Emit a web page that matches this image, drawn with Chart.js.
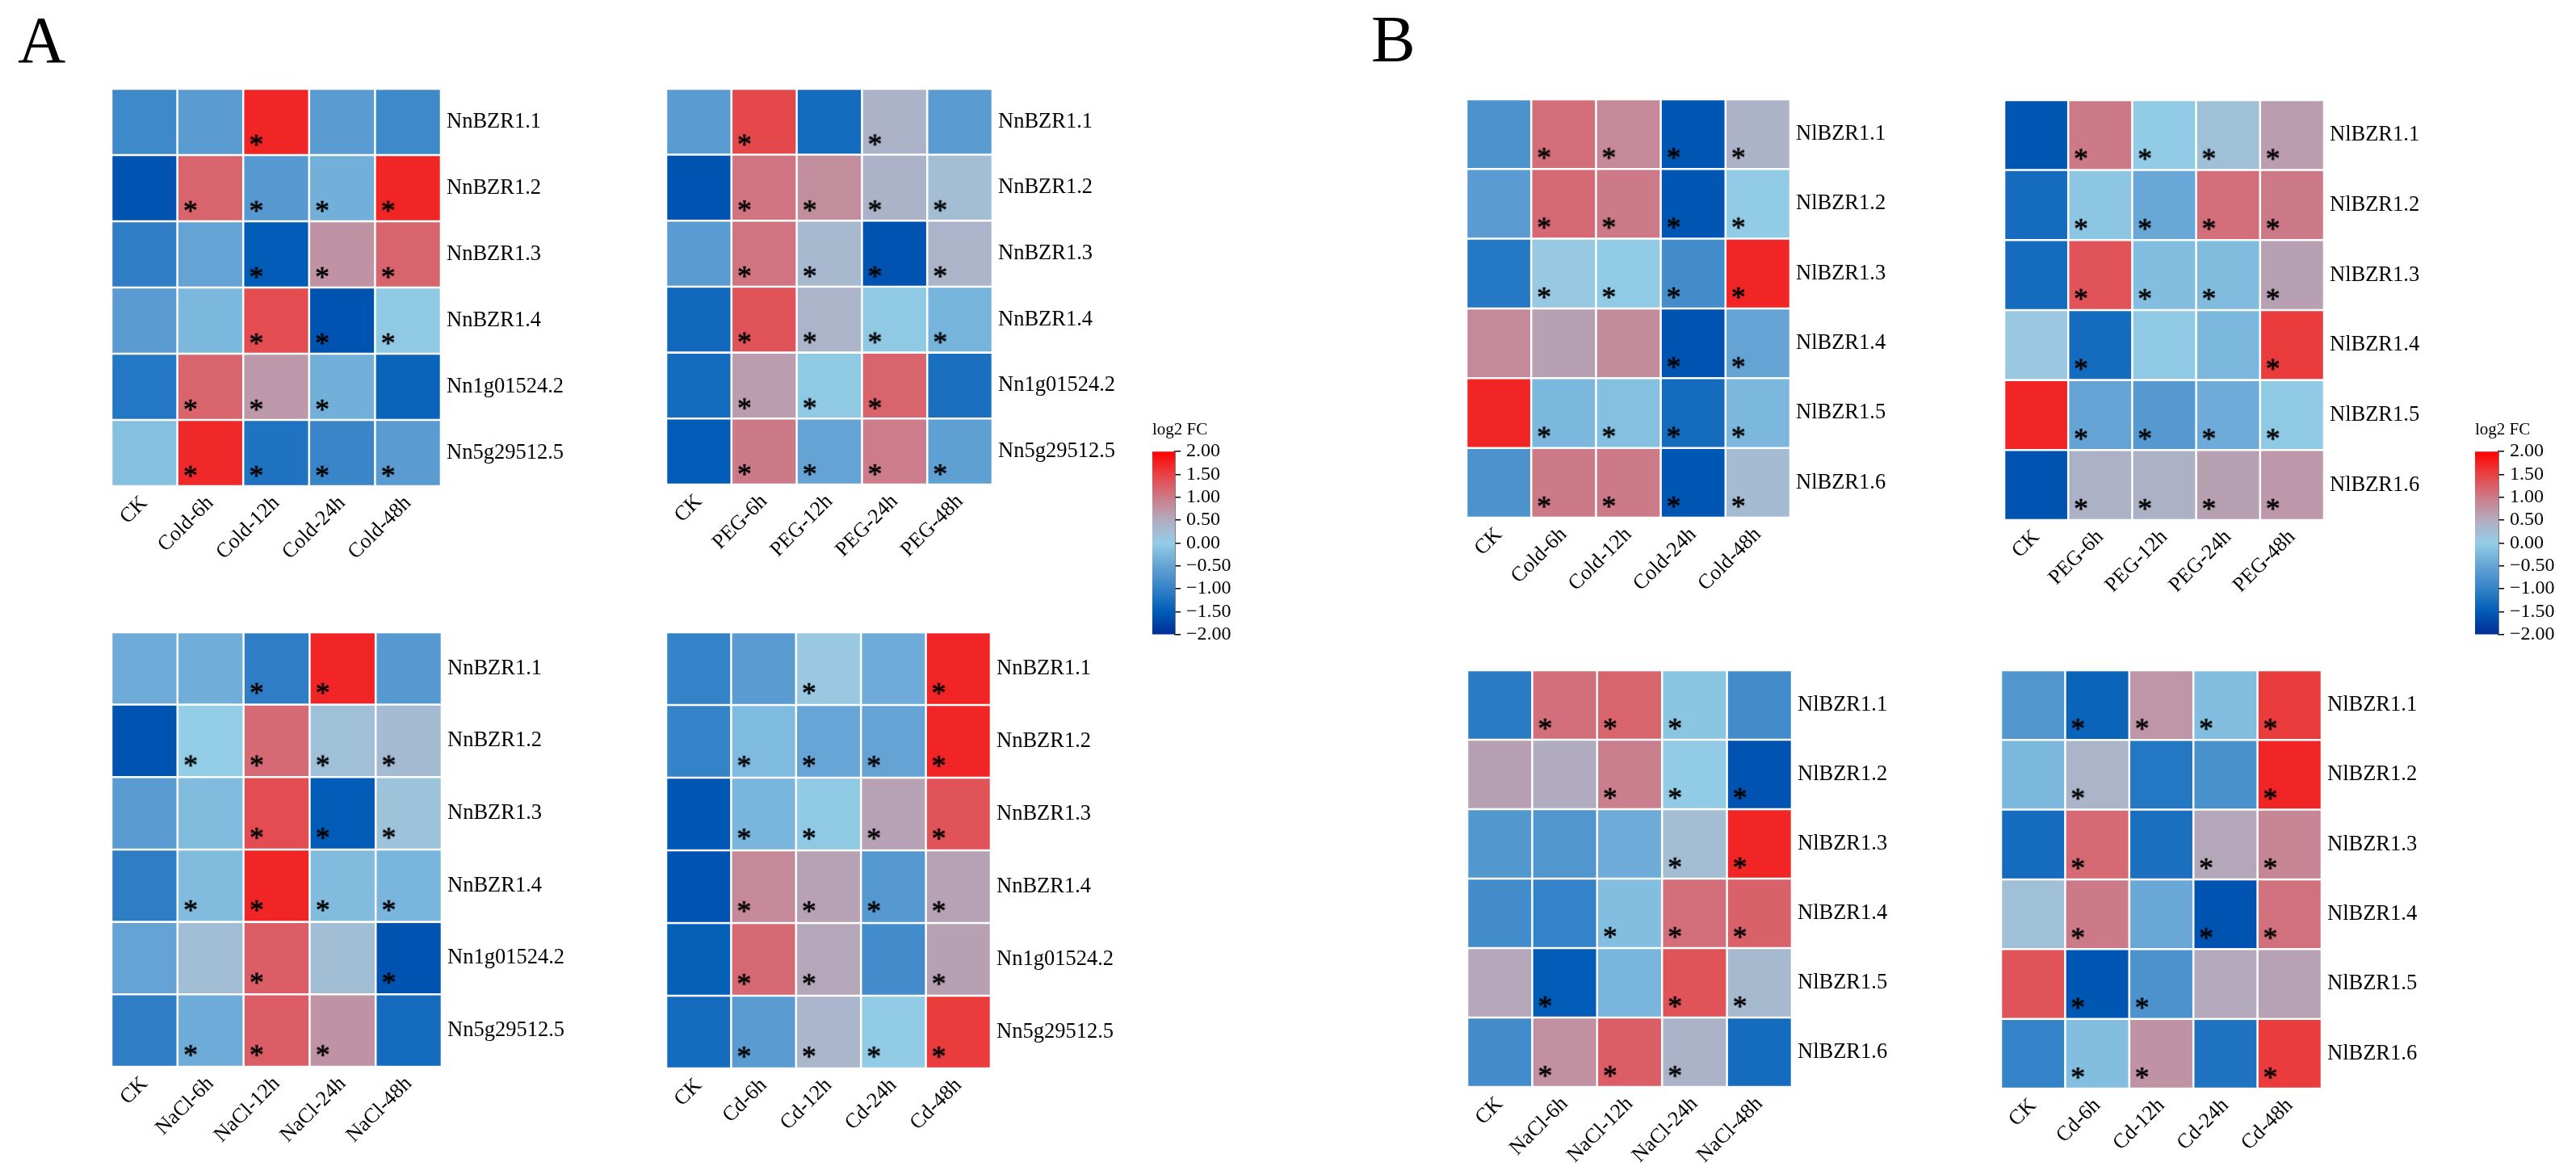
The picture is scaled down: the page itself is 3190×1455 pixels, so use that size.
<!DOCTYPE html>
<html>
<head>
<meta charset="utf-8">
<script src="https://cdn.jsdelivr.net/npm/chart.js@4.4.1/dist/chart.umd.min.js"></script>
<style>
  body { margin: 0; background: #fff; width: 3190px; height: 1455px; position: relative; overflow: hidden;
         font-family: "Liberation Serif", "Times New Roman", serif; }
  canvas { position: absolute; }
  .tag { position: absolute; font-size: 82px; line-height: 1; color: #000; }
</style>
</head>
<body>
<div class="tag" style="left:22px;top:9px">A</div>
<div class="tag" style="left:1698px;top:8px">B</div>

<canvas id="a1"></canvas><canvas id="a2"></canvas><canvas id="a3"></canvas><canvas id="a4"></canvas>
<canvas id="b1"></canvas><canvas id="b2"></canvas><canvas id="b3"></canvas><canvas id="b4"></canvas>
<canvas id="cbA"></canvas><canvas id="cbB"></canvas>

<script>
// column / row labels
const colsCold = ['CK', 'Cold-6h', 'Cold-12h', 'Cold-24h', 'Cold-48h'];
const colsPEG  = ['CK', 'PEG-6h', 'PEG-12h', 'PEG-24h', 'PEG-48h'];
const colsNaCl = ['CK', 'NaCl-6h', 'NaCl-12h', 'NaCl-24h', 'NaCl-48h'];
const colsCd   = ['CK', 'Cd-6h', 'Cd-12h', 'Cd-24h', 'Cd-48h'];
const genesNn = ['NnBZR1.1', 'NnBZR1.2', 'NnBZR1.3', 'NnBZR1.4', 'Nn1g01524.2', 'Nn5g29512.5'];
const genesNl = ['NlBZR1.1', 'NlBZR1.2', 'NlBZR1.3', 'NlBZR1.4', 'NlBZR1.5', 'NlBZR1.6'];

// log2 FC values (rows = genes, cols = treatments)
const nnCold = [
  [-0.9, -0.6, 1.72, -0.6, -0.9],
  [-1.6, 1.2, -0.65, -0.35, 1.72],
  [-1.05, -0.5, -1.5, 0.75, 1.2],
  [-0.6, -0.25, 1.4, -1.6, -0.05],
  [-1.15, 1.2, 0.7, -0.35, -1.4],
  [-0.15, 1.7, -1.2, -0.95, -0.6]
];
const nnPEG = [
  [-0.6, 1.45, -1.3, 0.4, -0.6],
  [-1.6, 1.05, 0.8, 0.4, 0.25],
  [-0.6, 1.05, 0.3, -1.6, 0.38],
  [-1.35, 1.35, 0.38, -0.05, -0.3],
  [-1.3, 0.65, -0.05, 1.2, -1.25],
  [-1.5, 1.0, -0.5, 0.98, -0.55]
];
const nnNaCl = [
  [-0.4, -0.38, -1.05, 1.72, -0.65],
  [-1.6, 0.0, 1.15, 0.2, 0.28],
  [-0.6, -0.2, 1.4, -1.5, 0.15],
  [-1.05, -0.2, 1.72, -0.2, -0.28],
  [-0.5, 0.22, 1.25, 0.22, -1.6],
  [-1.05, -0.4, 1.25, 0.75, -1.3]
];
const nnCd = [
  [-1.0, -0.6, 0.08, -0.4, 1.72],
  [-1.0, -0.22, -0.48, -0.5, 1.72],
  [-1.55, -0.28, -0.05, 0.6, 1.35],
  [-1.6, 0.85, 0.6, -0.65, 0.6],
  [-1.45, 1.15, 0.55, -0.85, 0.62],
  [-1.3, -0.6, 0.35, -0.02, 1.55]
];
const nlCold = [
  [-0.75, 1.1, 0.85, -1.55, 0.4],
  [-0.6, 1.15, 1.0, -1.55, -0.02],
  [-1.15, 0.05, -0.02, -0.85, 1.72],
  [0.85, 0.62, 0.82, -1.6, -0.5],
  [1.72, -0.25, -0.15, -1.3, -0.25],
  [-0.75, 1.0, 1.0, -1.55, 0.28]
];
const nlPEG = [
  [-1.55, 1.0, -0.02, 0.2, 0.65],
  [-1.3, -0.08, -0.45, 1.1, 1.0],
  [-1.3, 1.35, -0.18, -0.2, 0.62],
  [0.08, -1.3, -0.05, -0.25, 1.55],
  [1.72, -0.5, -0.65, -0.4, -0.05],
  [-1.6, 0.42, 0.42, 0.62, 0.7]
];
const nlNaCl = [
  [-1.1, 1.1, 1.2, -0.1, -0.85],
  [0.62, 0.5, 0.95, -0.02, -1.6],
  [-0.68, -0.7, -0.4, 0.25, 1.72],
  [-0.85, -1.0, -0.18, 1.1, 1.22],
  [0.55, -1.5, -0.28, 1.35, 0.3],
  [-0.85, 0.78, 1.25, 0.4, -1.3]
];
const nlCd = [
  [-0.7, -1.4, 0.72, -0.18, 1.55],
  [-0.25, 0.38, -1.15, -0.78, 1.72],
  [-1.3, 1.15, -1.25, 0.55, 0.88],
  [0.2, 1.0, -0.45, -1.6, 1.08],
  [1.35, -1.55, -0.75, 0.52, 0.6],
  [-1.0, -0.18, 0.75, -1.2, 1.55]
];

// significance marks (1 = asterisk)
const nnColdSig = [[0,0,1,0,0],[0,1,1,1,1],[0,0,1,1,1],[0,0,1,1,1],[0,1,1,1,0],[0,1,1,1,1]];
const nnPEGSig  = [[0,1,0,1,0],[0,1,1,1,1],[0,1,1,1,1],[0,1,1,1,1],[0,1,1,1,0],[0,1,1,1,1]];
const nnNaClSig = [[0,0,1,1,0],[0,1,1,1,1],[0,0,1,1,1],[0,1,1,1,1],[0,0,1,0,1],[0,1,1,1,0]];
const nnCdSig   = [[0,0,1,0,1],[0,1,1,1,1],[0,1,1,1,1],[0,1,1,1,1],[0,1,1,0,1],[0,1,1,1,1]];
const nlColdSig = [[0,1,1,1,1],[0,1,1,1,1],[0,1,1,1,1],[0,0,0,1,1],[0,1,1,1,1],[0,1,1,1,1]];
const nlPEGSig  = [[0,1,1,1,1],[0,1,1,1,1],[0,1,1,1,1],[0,1,0,0,1],[0,1,1,1,1],[0,1,1,1,1]];
const nlNaClSig = [[0,1,1,1,0],[0,0,1,1,1],[0,0,0,1,1],[0,0,1,1,1],[0,1,0,1,1],[0,1,1,1,0]];
const nlCdSig   = [[0,1,1,1,1],[0,1,0,0,1],[0,1,0,1,1],[0,1,0,1,1],[0,1,1,0,0],[0,1,1,0,1]];

// colour scale
const cbTicks = [-2, -1.5, -1, -0.5, 0, 0.5, 1, 1.5, 2];
const cmapStops = [-2, -1.5, -1, -0.5, 0, 0.5, 1, 1.5, 2];
const cmapColors = [[0,45,150],[0,92,182],[52,130,199],[100,163,212],[148,205,230],[178,172,192],[205,122,136],[232,66,68],[255,0,0]];

const FONT = '"Liberation Serif", "Times New Roman", serif';

function colorFor(v) {
  const s = cmapStops;
  if (v <= s[0]) return `rgb(${cmapColors[0].join(',')})`;
  if (v >= s[s.length - 1]) return `rgb(${cmapColors[s.length - 1].join(',')})`;
  let i = 0;
  while (v > s[i + 1]) i++;
  const t = (v - s[i]) / (s[i + 1] - s[i]);
  const a = cmapColors[i], b = cmapColors[i + 1];
  const c = a.map((x, k) => Math.round(x + (b[k] - x) * t));
  return `rgb(${c.join(',')})`;
}

// asterisk glyph as a point image
function makeStar(w) {
  const c = document.createElement('canvas');
  c.width = c.height = 24;
  const g = c.getContext('2d');
  g.font = `100px ${FONT}`;
  const m = g.measureText('*');
  const size = 100 * w / (m.actualBoundingBoxLeft + m.actualBoundingBoxRight);
  g.font = `${size}px ${FONT}`;
  const m2 = g.measureText('*');
  const cx = (m2.actualBoundingBoxRight - m2.actualBoundingBoxLeft) / 2;
  const cy = (m2.actualBoundingBoxDescent - m2.actualBoundingBoxAscent) / 2;
  g.fillStyle = '#000';
  g.strokeStyle = '#000';
  g.lineWidth = 0.7;
  g.fillText('*', 12 - cx, 12 - cy);
  g.strokeText('*', 12 - cx, 12 - cy);
  return c;
}
const starImg = makeStar(15);

// grid rectangle (left, top, width, height) for each heatmap
const PAD_L = 60, PAD_T = 20, AX_R = 220, AX_B = 130;

function heatmap(id, rect, cols, genes, vals, sig) {
  const [gl, gt, gw, gh] = rect;
  const el = document.getElementById(id);
  el.width = gw + PAD_L + AX_R;
  el.height = gh + PAD_T + AX_B;
  el.style.left = (gl - PAD_L) + 'px';
  el.style.top = (gt - PAD_T) + 'px';

  const datasets = genes.map((g, r) => ({
    type: 'bar',
    label: g,
    data: cols.map(() => [r, r + 1]),
    backgroundColor: vals[r].map(colorFor),
    borderColor: '#ffffff',
    borderWidth: 1.6,
    borderSkipped: false,
    barPercentage: 1,
    categoryPercentage: 1,
    grouped: false,
    xAxisID: 'x',
    yAxisID: 'y',
    order: 2
  }));

  const stars = [];
  sig.forEach((row, r) => row.forEach((s, c) => { if (s) stars.push({ x: c - 0.3, y: r + 0.78 }); }));
  datasets.push({
    type: 'scatter',
    data: stars,
    xAxisID: 'xs',
    yAxisID: 'y',
    pointStyle: starImg,
    pointRadius: 10,
    order: 1
  });

  new Chart(el, {
    data: { labels: cols, datasets },
    options: {
      responsive: false,
      animation: false,
      devicePixelRatio: 1,
      layout: { padding: { left: PAD_L, top: PAD_T, right: 0, bottom: 0 } },
      scales: {
        x: {
          type: 'category',
          offset: true,
          grid: { display: false, drawTicks: false },
          border: { display: false },
          ticks: { color: '#000', font: { family: FONT, size: 26 }, minRotation: 45, maxRotation: 45, autoSkip: false, padding: 6 },
          afterFit: s => { s.height = AX_B; }
        },
        xs: { type: 'linear', display: false, min: -0.5, max: cols.length - 0.5 },
        y: {
          type: 'linear',
          position: 'right',
          min: 0, max: genes.length,
          reverse: true,
          grid: { display: false, drawTicks: false },
          border: { display: false },
          afterBuildTicks: s => { s.ticks = genes.map((g, i) => ({ value: i + 0.5 })); },
          ticks: { color: '#000', font: { family: FONT, size: 26.5 }, padding: 7, autoSkip: false,
                   callback: v => genes[Math.floor(v)] },
          afterFit: s => { s.width = AX_R; }
        }
      },
      plugins: { legend: { display: false }, tooltip: { enabled: false } }
    }
  });
}

function colorbar(id, left, top, barW) {
  const el = document.getElementById(id);
  const axW = 98;
  el.width = barW + axW;
  el.height = 287;
  el.style.left = left + 'px';
  el.style.top = top + 'px';
  new Chart(el, {
    type: 'bar',
    data: {
      labels: ['log2 FC'],
      datasets: [{
        data: [[cbTicks[0], cbTicks[cbTicks.length - 1]]],
        backgroundColor: ctx => {
          const area = ctx.chart.chartArea;
          if (!area) return colorFor(0);
          const grad = ctx.chart.ctx.createLinearGradient(0, area.bottom, 0, area.top);
          cmapStops.forEach(s => grad.addColorStop((s - cmapStops[0]) / (cmapStops[cmapStops.length - 1] - cmapStops[0]), colorFor(s)));
          return grad;
        },
        borderWidth: 0,
        barPercentage: 1,
        categoryPercentage: 1
      }]
    },
    options: {
      responsive: false,
      animation: false,
      devicePixelRatio: 1,
      layout: { padding: { left: 0, top: 0, right: 0, bottom: 20 } },
      scales: {
        x: { display: false },
        y: {
          position: 'right',
          min: cbTicks[0], max: cbTicks[cbTicks.length - 1],
          afterBuildTicks: s => { s.ticks = cbTicks.map(v => ({ value: v })); },
          ticks: { color: '#000', font: { family: FONT, size: 24 }, padding: 7, autoSkip: false,
                   callback: v => (v < 0 ? '\u2212' : '') + Math.abs(v).toFixed(2) },
          grid: { drawOnChartArea: false, drawTicks: true, tickLength: 7, color: '#000', lineWidth: 1.5 },
          border: { display: true, color: '#000', width: 1.5 },
          afterFit: s => { s.width = axW; }
        }
      },
      plugins: {
        legend: { display: false },
        tooltip: { enabled: false },
        title: { display: true, text: 'log2 FC', align: 'start', color: '#000',
                 font: { family: FONT, size: 21, weight: 'normal' }, padding: { top: 0, bottom: 14 } }
      }
    }
  });
}

heatmap('a1', [138, 107, 408, 495], colsCold, genesNn, nnCold, nnColdSig);
heatmap('a2', [825, 107, 404, 493], colsPEG, genesNn, nnPEG, nnPEGSig);
heatmap('a3', [138, 780, 409, 541], colsNaCl, genesNn, nnNaCl, nnNaClSig);
heatmap('a4', [825, 780, 402, 543], colsCd, genesNn, nnCd, nnCdSig);
heatmap('b1', [1816, 120, 401, 521], colsCold, genesNl, nlCold, nlColdSig);
heatmap('b2', [2482, 121, 396, 523], colsPEG, genesNl, nlPEG, nlPEGSig);
heatmap('b3', [1817, 827, 402, 519], colsNaCl, genesNl, nlNaCl, nlNaClSig);
heatmap('b4', [2478, 827, 397, 521], colsCd, genesNl, nlCd, nlCdSig);

colorbar('cbA', 1427, 520, 28);
colorbar('cbB', 3065, 520, 29);
</script>
</body>
</html>
